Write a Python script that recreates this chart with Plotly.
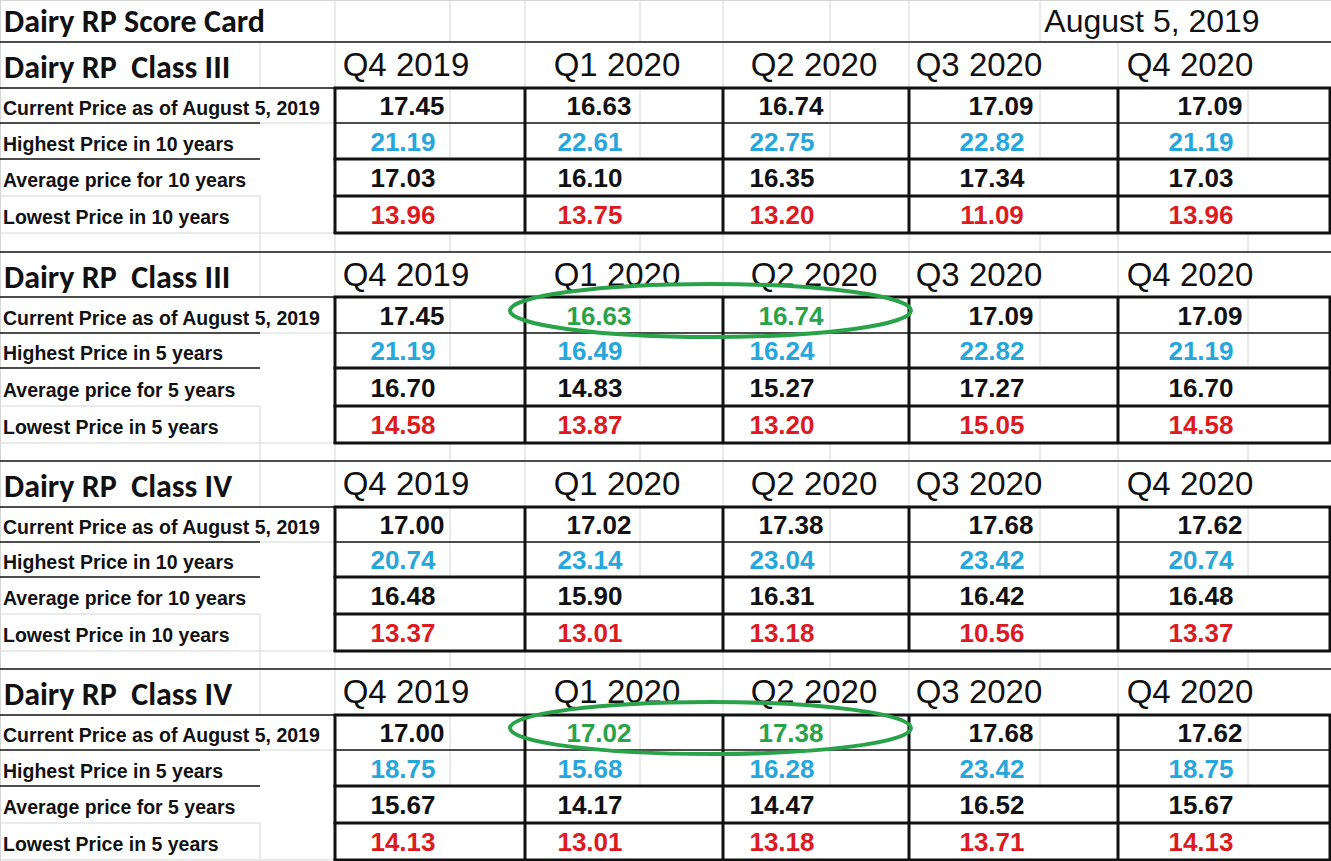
import plotly.graph_objects as go

# ---- sheet contents ----
sheet_title = "Dairy RP Score Card"
sheet_date = "August 5, 2019"
quarters = ["Q4 2019", "Q1 2020", "Q2 2020", "Q3 2020", "Q4 2020"]
block_titles = ["Dairy RP\u00a0 Class III", "Dairy RP\u00a0 Class III",
                "Dairy RP\u00a0 Class IV", "Dairy RP\u00a0 Class IV"]
labels_10 = ["Current Price as of August 5, 2019", "Highest Price in 10 years",
             "Average price for 10 years", "Lowest Price in 10 years"]
labels_5 = ["Current Price as of August 5, 2019", "Highest Price in 5 years",
            "Average price for 5 years", "Lowest Price in 5 years"]

class3_current = [17.45, 16.63, 16.74, 17.09, 17.09]
class3_high_10 = [21.19, 22.61, 22.75, 22.82, 21.19]
class3_avg_10 = [17.03, 16.10, 16.35, 17.34, 17.03]
class3_low_10 = [13.96, 13.75, 13.20, 11.09, 13.96]
class3_high_5 = [21.19, 16.49, 16.24, 22.82, 21.19]
class3_avg_5 = [16.70, 14.83, 15.27, 17.27, 16.70]
class3_low_5 = [14.58, 13.87, 13.20, 15.05, 14.58]

class4_current = [17.00, 17.02, 17.38, 17.68, 17.62]
class4_high_10 = [20.74, 23.14, 23.04, 23.42, 20.74]
class4_avg_10 = [16.48, 15.90, 16.31, 16.42, 16.48]
class4_low_10 = [13.37, 13.01, 13.18, 10.56, 13.37]
class4_high_5 = [18.75, 15.68, 16.28, 23.42, 18.75]
class4_avg_5 = [15.67, 14.17, 14.47, 16.52, 15.67]
class4_low_5 = [14.13, 13.01, 13.18, 13.71, 14.13]

highlight_cols = [1, 2]   # circled quarters in the 5-year blocks

blocks = [
    (block_titles[0], labels_10, [class3_current, class3_high_10, class3_avg_10, class3_low_10], False),
    (block_titles[1], labels_5, [class3_current, class3_high_5, class3_avg_5, class3_low_5], True),
    (block_titles[2], labels_10, [class4_current, class4_high_10, class4_avg_10, class4_low_10], False),
    (block_titles[3], labels_5, [class4_current, class4_high_5, class4_avg_5, class4_low_5], True),
]

# ---- sheet geometry (screen pixels) ----
W, H = 1331, 861
col_edges = [0, 260, 335, 450, 525, 640, 723, 830, 909, 1040, 1118, 1248, 1331]
block_edges = [335, 525, 723, 909, 1118, 1330]
header_x = [406, 617, 814, 979, 1190]
value_x = [403, 590, 782, 992, 1201]
current_shift = 9
title_h = 42
header_h = [46, 45, 46, 46]
data_h = [[35, 36, 37, 37], [36, 35, 38, 37], [35, 35, 37, 37], [35, 36, 37, 37]]
spacer_h = [19, 18, 18, 0]

BLACK = "#111111"
BLUE = "#27a6dc"
RED = "#dc1a22"
GREEN = "#29a24a"
GRID = "#d6d6d6"
row_colors = [BLACK, BLUE, BLACK, RED]

ARIAL = "Arial, Liberation Sans, sans-serif"
CALIBRI = "Calibri, Lato, sans-serif"

shapes = []


def seg(x0, y0, x1, y1, color=GRID, width=1, layer="below"):
    shapes.append(dict(type="line", xref="x", yref="y", x0=x0, y0=y0, x1=x1, y1=y1,
                       line=dict(color=color, width=width), layer=layer))


texts = {"lato": ([], [], [], []), "hdr": ([], [], [], []),
         "lab": ([], [], [], []), "val": ([], [], [], [])}


def put(kind, x, y, s, c=BLACK):
    t = texts[kind]
    t[0].append(x)
    t[1].append(y)
    t[2].append(s)
    t[3].append(c)


# outer faint grid edges
seg(0, 0.5, W, 0.5)
seg(0.5, 0, 0.5, H)

# title row
for x in [335, 450, 525, 640, 723, 830, 909, 1040]:
    seg(x, 0, x, title_h)
seg(0, title_h, W, title_h, BLACK, 1.5, "above")
put("lato", 4, title_h / 2 + 3, sheet_title)
date_x = 1152
texts_date = ([date_x], [title_h / 2 + 3], [sheet_date])

y = title_h
for b, (btitle, labels, rows, circled) in enumerate(blocks):
    top = y
    if b > 0:
        seg(0, top, W, top, BLACK, 1.5, "above")
    dtop = top + header_h[b]
    edges = [dtop]
    for h in data_h[b]:
        edges.append(edges[-1] + h)
    bottom = edges[-1]

    # header row
    for x in [260, 335, 525, 723, 909, 1118]:
        seg(x, top, x, dtop)
    put("lato", 4, (top + dtop) / 2 + 5, btitle)
    for i, q in enumerate(quarters):
        put("hdr", header_x[i], (top + dtop) / 2 + 3, q)

    # label column lines
    seg(0, dtop, 335, dtop, BLACK, 1.5, "above")
    seg(0, edges[1], 260, edges[1], BLACK, 1.5, "above")
    seg(260, edges[1], 335, edges[1])
    seg(0, edges[2], 260, edges[2], BLACK, 1.5, "above")
    seg(0, edges[3], 260, edges[3])
    seg(0, edges[4], 335, edges[4])
    seg(260, edges[3], 260, edges[4])

    # faint inner grid in the first two data rows
    for x in [450, 640, 830, 1040, 1248]:
        seg(x, dtop, x, edges[2])

    # data box
    seg(335, edges[1], 1330, edges[1], BLACK, 1.5, "above")
    for e in [edges[0], edges[2], edges[3], edges[4]]:
        seg(333.5, e, 1331, e, BLACK, 3, "above")
    for x in block_edges:
        seg(x, dtop, x, bottom, BLACK, 3, "above")

    # text
    for r, (lab, vals) in enumerate(zip(labels, rows)):
        cy = (edges[r] + edges[r + 1]) / 2
        put("lab", 3, cy + 5, lab)
        for i, v in enumerate(vals):
            c = row_colors[r]
            x = value_x[i]
            if r == 0:
                x += current_shift
                if circled and i in highlight_cols:
                    c = GREEN
            put("val", x, cy + 3, f"{v:.2f}", c)

    if circled:
        shapes.append(dict(type="circle", xref="x", yref="y",
                           x0=block_edges[highlight_cols[0]] - 15,
                           x1=block_edges[highlight_cols[-1] + 1] + 2,
                           y0=edges[0] - 13, y1=edges[1] + 4,
                           line=dict(color=GREEN, width=4), layer="above"))

    # spacer row
    if spacer_h[b]:
        sp_bottom = bottom + spacer_h[b]
        for x in col_edges[1:-1]:
            seg(x, bottom, x, sp_bottom)
    y = bottom + spacer_h[b]

fig = go.Figure()
fonts = {"lato": dict(family=CALIBRI, size=32, weight="bold"),
         "hdr": dict(family=ARIAL, size=33),
         "lab": dict(family=ARIAL, size=19.5, weight="bold"),
         "val": dict(family=ARIAL, size=26, weight="bold")}
positions = {"lato": "middle right", "hdr": "middle center",
             "lab": "middle right", "val": "middle center"}
for kind, (xs, ys, ss, cs) in texts.items():
    f = dict(fonts[kind])
    f["color"] = cs
    fig.add_trace(go.Scatter(x=xs, y=ys, text=ss, mode="text",
                             textposition=positions[kind], textfont=f,
                             hoverinfo="skip", showlegend=False))
fig.add_trace(go.Scatter(x=texts_date[0], y=texts_date[1], text=texts_date[2], mode="text",
                         textposition="middle center",
                         textfont=dict(family=ARIAL, size=32, color=BLACK),
                         hoverinfo="skip", showlegend=False))

fig.update_layout(
    width=W, height=H,
    margin=dict(l=0, r=0, t=0, b=0),
    paper_bgcolor="white", plot_bgcolor="white",
    shapes=shapes,
    xaxis=dict(range=[0, W], visible=False, fixedrange=True),
    yaxis=dict(range=[H, 0], visible=False, fixedrange=True),
)

# the page body has a default 8px margin; drop it so the sheet sits at the window corner
fig.write_html("out.html", config={"displayModeBar": False},
               post_script="document.body.style.margin = '0';")
